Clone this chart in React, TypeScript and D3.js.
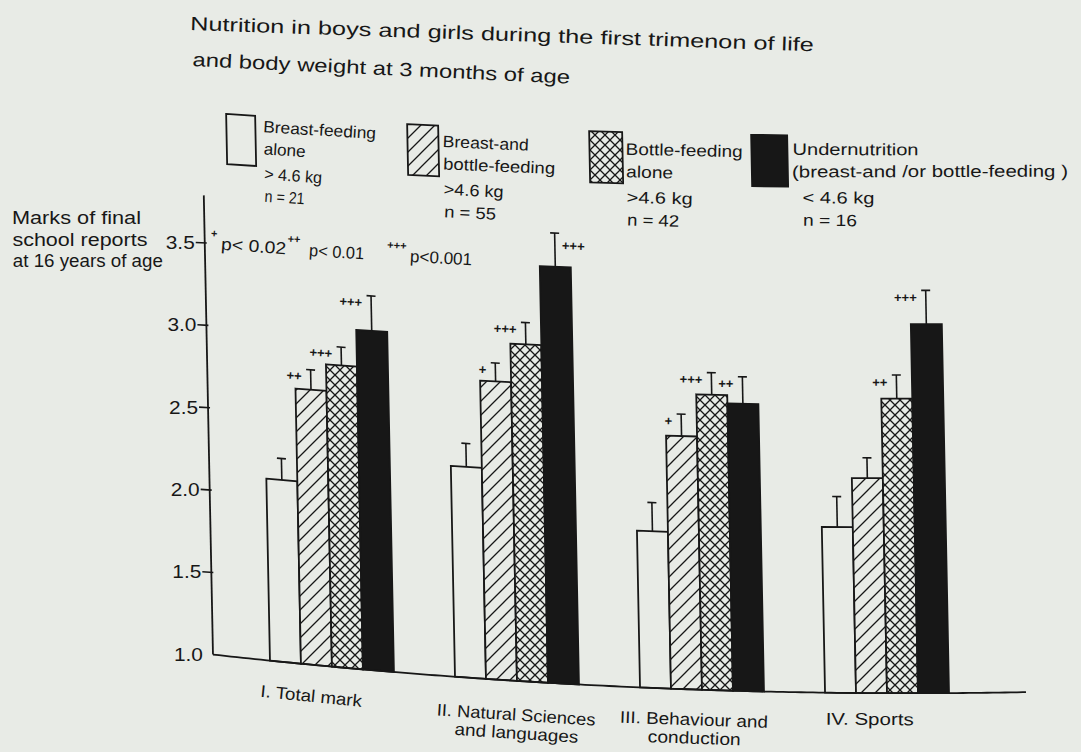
import React from "react";
import * as d3 from "d3";

// ---------------- data ----------------
const categories = ["I", "II", "III", "IV"];
const categoryLabels: string[][] = [
  ["I. Total mark"],
  ["II. Natural Sciences", "and languages"],
  ["III. Behaviour and", "conduction"],
  ["IV. Sports"],
];
const seriesKeys = ["breastAlone", "breastBottle", "bottleAlone", "undernutrition"];

const breastAlone = [2.1, 2.26, 1.93, 1.98];
const breastAloneErr = [0.13, 0.14, 0.17, 0.18];
const breastAloneSig = ["", "", "", ""];

const breastBottle = [2.66, 2.78, 2.5, 2.27];
const breastBottleErr = [0.12, 0.11, 0.13, 0.12];
const breastBottleSig = ["++", "+", "+", ""];

const bottleAlone = [2.82, 3.01, 2.75, 2.74];
const bottleAloneErr = [0.11, 0.13, 0.13, 0.14];
const bottleAloneSig = ["+++", "+++", "+++", "++"];

const undernutrition = [3.04, 3.48, 2.7, 3.18];
const undernutritionErr = [0.21, 0.2, 0.16, 0.2];
const undernutritionSig = ["+++", "+++", "++", "+++"];

const legendLines: string[][] = [
  ["Breast-feeding", "alone", "> 4.6 kg", "n = 21"],
  ["Breast-and", "bottle-feeding", ">4.6 kg", "n = 55"],
  ["Bottle-feeding", "alone", ">4.6 kg", "n = 42"],
  ["Undernutrition", "(breast-and /or bottle-feeding )", "< 4.6 kg", "n = 16"],
];
const titleLines = [
  "Nutrition in boys and girls during the first trimenon of life",
  "and body weight at 3 months of age",
];
const yLabelLines = ["Marks of final", "school reports", "at 16 years of age"];
const yTicks = [1.0, 1.5, 2.0, 2.5, 3.0, 3.5];
const pMarks = ["+", "++", "+++"];
const pLabels = ["p< 0.02", "p< 0.01", "p<0.001"];

const series = [
  { key: seriesKeys[0], values: breastAlone, errors: breastAloneErr, sig: breastAloneSig },
  { key: seriesKeys[1], values: breastBottle, errors: breastBottleErr, sig: breastBottleSig },
  { key: seriesKeys[2], values: bottleAlone, errors: bottleAloneErr, sig: bottleAloneSig },
  { key: seriesKeys[3], values: undernutrition, errors: undernutritionErr, sig: undernutritionSig },
];

// ---------------- style & layout ----------------
const PAPER = "#e8ebe6";
const INK = "#171717";
const FONT = "'Liberation Sans', Arial, sans-serif";
const seriesFill = [PAPER, "url(#hatch)", "url(#cross)", INK];

const WIDTH = 1081;
const HEIGHT = 752;
const AXIS_X = 213;
const BASE_Y = 654;
const AXIS_TOP = 195;
const AXIS_END = 1026;

const TITLE_POS = [
  { x: 202.5, y: 30, len: 624 },
  { x: 204, y: 66, len: 378 },
];
const YLABEL_X = 20.6;
const YLABEL_Y = [224, 246, 267];
const YLABEL_LEN = [129, 135, 150];

const LEGEND_BOX_X = [237, 418, 600, 762];
const LEGEND_BOX_W = [29, 31, 33, 36];
const LEGEND_BOX_TOP = 112;
const LEGEND_BOX_H = 50;
const LEGEND_TEXT_X = [273.5, 453, 636, 803];
const LEGEND_TEXT_Y = [128, 133, 134, 131];
const LEGEND_LINE_DY = [0, 22, 47, 69];
const LEGEND_INDENT = [
  [0, 0, 0, 0],
  [0, 0, 0, 0],
  [0, 0, 0, 0],
  [0, -1, 9, 9],
];
const LEGEND_LEN = [
  [113, 42, 58, 40],
  [86, 112, 60, 52],
  [117, 47, 66, 52],
  [126, 276, 72, 54],
];

const P_TEXT_X = [229, 317, 418];
const P_MARK_X = [226, 309, 415];
const P_TEXT_Y = 248;
const P_MARK_Y = 232;
const P_LEN = [65, 55, 62];

const CAT_DX = [-22, -2, -9, -18];
const CAT_Y = [691, 693, 689, 685];
const CAT_LINE_DY = 18;
const CAT_LEN = [[102], [159, 124], [148, 93], [88]];

const SIG_RIGHT = new Set(["II-undernutrition"]);

// ---------------- scales ----------------
const y = d3.scaleLinear().domain([1, 3.5]).range([BASE_Y, 242.5]);
const x0 = d3
  .scaleBand<string>()
  .domain(categories)
  .range([208, 1011])
  .paddingInner(0.33)
  .paddingOuter(0.335);
const x1 = d3.scaleBand<string>().domain(seriesKeys).range([0, x0.bandwidth()]);

// ---------------- page warp (photographed, slightly bent page) ----------------
function bend(x: number) {
  const u = Math.max(0, x - 208);
  return 0.1117 * u - 7.95e-5 * u * u;
}
function fy(yy: number) {
  return 0.6 + (0.4 * (yy - 100)) / 555;
}
function warp(x: number, yy: number): [number, number] {
  return [x + 0.02 * (yy - 655), yy + bend(x) * fy(yy)];
}
function quad(xa: number, ya: number, xb: number, yb: number) {
  const pts = [
    [xa, ya],
    [xb, ya],
    [xb, yb],
    [xa, yb],
  ].map((p) => warp(p[0], p[1]));
  return "M" + pts.map((p) => p[0].toFixed(2) + "," + p[1].toFixed(2)).join("L") + "Z";
}
function seg(xa: number, ya: number, xb: number, yb: number) {
  const a = warp(xa, ya);
  const b = warp(xb, yb);
  return `M${a[0].toFixed(2)},${a[1].toFixed(2)}L${b[0].toFixed(2)},${b[1].toFixed(2)}`;
}

function WText(props: {
  x: number;
  y: number;
  len: number;
  anchor?: "start" | "middle" | "end";
  size: number;
  fit?: boolean;
  weight?: string | number;
  baseline?: string;
  children: React.ReactNode;
}) {
  const { x, y: yy, len, anchor = "start", size, fit = false, weight, baseline } = props;
  const start = anchor === "start" ? x : anchor === "middle" ? x - len / 2 : x - len;
  const a = warp(start, yy);
  const b = warp(start + len, yy);
  const ang = (Math.atan2(b[1] - a[1], b[0] - a[0]) * 180) / Math.PI;
  const p = warp(x, yy);
  return (
    <text
      transform={`translate(${p[0].toFixed(2)},${p[1].toFixed(2)}) rotate(${ang.toFixed(2)})`}
      textAnchor={anchor}
      fontSize={size}
      fontWeight={weight}
      dominantBaseline={baseline}
      textLength={fit ? len : undefined}
      lengthAdjust={fit ? "spacingAndGlyphs" : undefined}
      fill={INK}
    >
      {props.children}
    </text>
  );
}

export default function App() {
  const bw = x1.bandwidth();
  const basePts = d3
    .range(AXIS_X, AXIS_END, 6)
    .concat([AXIS_END])
    .map((xx) => warp(xx, BASE_Y));
  const basePath = d3.line()(basePts as [number, number][]) || "";

  return (
    <svg
      width={WIDTH}
      height={HEIGHT}
      style={{ position: "absolute", left: 0, top: 0 }}
      fontFamily={FONT}
    >
      <defs>
        <pattern id="hatch" patternUnits="userSpaceOnUse" width="14" height="14">
          <rect width="14" height="14" fill={PAPER} />
          <path d="M-2,2 L2,-2 M0,14 L14,0 M12,16 L16,12" stroke={INK} strokeWidth="1.3" />
        </pattern>
        <pattern id="cross" patternUnits="userSpaceOnUse" width="10" height="10">
          <rect width="10" height="10" fill={PAPER} />
          <path d="M0,0 L10,10 M10,0 L0,10" stroke={INK} strokeWidth="1.3" />
        </pattern>
      </defs>
      <rect width={WIDTH} height={HEIGHT} fill={PAPER} />

      {/* title */}
      {titleLines.map((t, i) => (
        <WText key={"t" + i} x={TITLE_POS[i].x} y={TITLE_POS[i].y} len={TITLE_POS[i].len} size={19} fit>
          {t}
        </WText>
      ))}

      {/* legend */}
      {legendLines.map((lines, i) => (
        <g key={"lg" + i}>
          <path
            d={quad(LEGEND_BOX_X[i], LEGEND_BOX_TOP, LEGEND_BOX_X[i] + LEGEND_BOX_W[i], LEGEND_BOX_TOP + LEGEND_BOX_H)}
            fill={seriesFill[i]}
            stroke={INK}
            strokeWidth={1.8}
          />
          {lines.map((ln, j) => (
            <WText
              key={j}
              x={LEGEND_TEXT_X[i] + LEGEND_INDENT[i][j]}
              y={LEGEND_TEXT_Y[i] + LEGEND_LINE_DY[j]}
              len={LEGEND_LEN[i][j]}
              size={16.5}
              fit
            >
              {ln}
            </WText>
          ))}
        </g>
      ))}

      {/* y axis label */}
      {yLabelLines.map((t, i) => (
        <WText key={"yl" + i} x={YLABEL_X} y={YLABEL_Y[i]} len={YLABEL_LEN[i]} size={17.5} fit>
          {t}
        </WText>
      ))}

      {/* significance legend */}
      {pLabels.map((t, i) => (
        <g key={"p" + i}>
          <WText x={P_MARK_X[i]} y={P_MARK_Y} len={7 * pMarks[i].length} anchor="end" size={11} weight="bold" baseline="central">
            {pMarks[i]}
          </WText>
          <WText x={P_TEXT_X[i]} y={P_TEXT_Y} len={P_LEN[i]} size={17} fit>
            {t}
          </WText>
        </g>
      ))}

      {/* y axis */}
      <path d={seg(AXIS_X, BASE_Y, AXIS_X, AXIS_TOP)} stroke={INK} strokeWidth={1.8} fill="none" />
      {yTicks.map((t) => (
        <g key={"yt" + t}>
          {t > 1 && (
            <path d={seg(AXIS_X - 9, y(t), AXIS_X + 2, y(t))} stroke={INK} strokeWidth={1.6} fill="none" />
          )}
          <WText x={AXIS_X - 10} y={y(t)} len={29} anchor="end" size={19} baseline="central" fit>
            {t.toFixed(1)}
          </WText>
        </g>
      ))}

      {/* bars */}
      {categories.map((c, ci) =>
        series.map((s, si) => {
          const xl = (x0(c) as number) + (x1(s.key) as number);
          const v = s.values[ci];
          const e = s.errors[ci];
          const cx = xl + bw / 2;
          const yTop = y(v + e);
          const right = SIG_RIGHT.has(c + "-" + s.key);
          return (
            <g key={c + s.key}>
              <path d={quad(xl, y(v), xl + bw, BASE_Y)} fill={seriesFill[si]} stroke={INK} strokeWidth={1.8} />
              <path d={seg(cx, y(v), cx, yTop)} stroke={INK} strokeWidth={1.6} fill="none" />
              <path d={seg(cx - 4.5, yTop, cx + 4.5, yTop)} stroke={INK} strokeWidth={1.6} fill="none" />
              {s.sig[ci] && (
                <WText
                  x={right ? cx + 7 : cx - 9}
                  y={yTop + (right ? 12 : 7)}
                  len={8 * s.sig[ci].length}
                  anchor={right ? "start" : "end"}
                  size={13}
                  weight="bold"
                  baseline="central"
                >
                  {s.sig[ci]}
                </WText>
              )}
            </g>
          );
        })
      )}

      {/* x axis baseline */}
      <path d={basePath} stroke={INK} strokeWidth={1.8} fill="none" />

      {/* category labels */}
      {categoryLabels.map((lines, ci) =>
        lines.map((ln, j) => (
          <WText
            key={"c" + ci + j}
            x={(x0(categories[ci]) as number) + x0.bandwidth() / 2 + CAT_DX[ci]}
            y={CAT_Y[ci] + j * CAT_LINE_DY}
            len={CAT_LEN[ci][j]}
            anchor="middle"
            size={17}
            fit
          >
            {ln}
          </WText>
        ))
      )}
    </svg>
  );
}
